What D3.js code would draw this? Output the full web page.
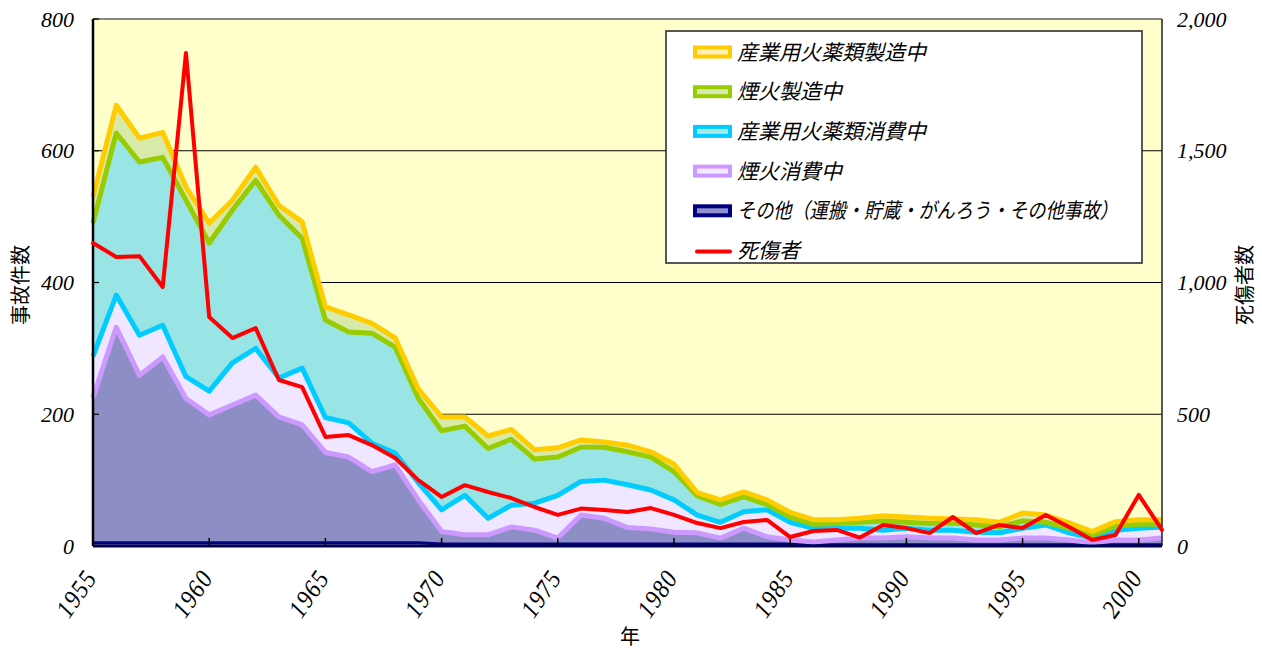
<!DOCTYPE html>
<html><head><meta charset="utf-8">
<script src="https://cdn.jsdelivr.net/npm/d3@7"></script>
<style>
body{margin:0;background:#fff;}
.jp{font-family:"Noto Sans CJK JP","Noto Sans",sans-serif;}
.num{font-family:"Liberation Serif","DejaVu Serif",serif;font-style:italic;}
</style></head><body>
<svg id="c" width="1262" height="652"></svg>
<script>
// ---- data ----
const years = [1955,1956,1957,1958,1959,1960,1961,1962,1963,1964,1965,1966,1967,1968,1969,1970,1971,1972,1973,1974,1975,1976,1977,1978,1979,1980,1981,1982,1983,1984,1985,1986,1987,1988,1989,1990,1991,1992,1993,1994,1995,1996,1997,1998,1999,2000,2001];
const other =          [5,5,5,5,5,5,5,5,5,5,5,5,5,5,5,3,3,3,3,3,3,3,3,3,3,3,3,3,3,3,3,2,2,2,2,2,2,2,2,2,2,2,2,2,2,2,2];
const fireworksUse =   [220,327,254,282,219,194,209,224,191,179,137,130,108,118,65,19,14,14,26,21,9,44,39,25,23,18,17,9,24,11,6,4,7,10,10,12,10,10,7,7,10,10,7,3,7,7,10];
const industrialUse =  [63,49,61,48,33,36,64,71,59,86,53,52,43,18,26,33,60,25,33,41,65,51,58,65,59,49,27,24,25,41,27,21,18,15,12,13,12,12,12,11,15,20,11,7,15,18,17];
const fireworksMfg =   [202,246,263,255,268,225,232,255,247,197,148,138,167,161,128,120,105,106,100,67,58,52,50,50,50,43,29,27,23,8,8,6,7,9,14,9,10,11,11,9,11,4,7,4,6,6,4];
const industrialMfg =  [40,42,36,38,20,30,15,20,15,25,20,26,15,14,14,21,14,19,15,14,14,11,8,10,8,11,5,7,7,7,7,7,6,6,8,8,8,6,8,7,12,11,8,6,7,7,7];
const casualties =     [1150,1097,1100,983,1871,869,789,827,630,603,414,421,383,334,250,186,231,205,182,148,118,142,137,129,144,118,87,68,91,99,34,57,61,32,80,68,49,110,49,80,68,118,72,23,42,194,61];
const seriesKeys = ["other","fireworksUse","industrialUse","fireworksMfg","industrialMfg"];
const legendNames = ["産業用火薬類製造中","煙火製造中","産業用火薬類消費中","煙火消費中","その他（運搬・貯蔵・がんろう・その他事故）"];
const casualtyName = "死傷者";
const leftTicks = [0,200,400,600,800];
const rightTicks = [0,500,1000,1500,2000];
const xTicks = [1955,1960,1965,1970,1975,1980,1985,1990,1995,2000];

// ---- styles ----
const lineColors = ["#000080","#CC99FF","#00CCFF","#99CC00","#FFCC00"];
const bandFills  = ["#8E8EC6","#8E8EC6","#F0E6FF","#99E4E4","#D8EAAA"];
const swatchInner = {"other":"#9090D0","fireworksUse":"#F2EAFF","industrialUse":"#A4E8E8","fireworksMfg":"#D8EAB4","industrialMfg":"#FFF2B8"};

const L=93,R=1162,T=19,B=546;
const svg = d3.select("#c");
const x = d3.scaleLinear().domain([1955,2001]).range([L,R]);
const y = d3.scaleLinear().domain([0,800]).range([B,T]);
const y2 = d3.scaleLinear().domain([0,2000]).range([B,T]);

const rows = years.map((yr,i)=>({year:yr, other:other[i], fireworksUse:fireworksUse[i], industrialUse:industrialUse[i], fireworksMfg:fireworksMfg[i], industrialMfg:industrialMfg[i]}));
const stacked = d3.stack().keys(seriesKeys)(rows);

// plot background
svg.append("rect").attr("x",L).attr("y",T).attr("width",R-L).attr("height",B-T).attr("fill","#FFFFCC");
// gridlines
svg.append("g").selectAll("line").data([200,400,600]).join("line")
  .attr("x1",L).attr("x2",R).attr("y1",d=>y(d)).attr("y2",d=>y(d)).attr("stroke","#000").attr("stroke-width",1.2);

// bands
const area = d3.area().x(d=>x(d.data.year)).y0(d=>y(d[0])).y1(d=>y(d[1]));
svg.append("g").selectAll("path").data(stacked).join("path")
  .attr("d",area).attr("fill",(d,i)=>bandFills[i]);

// series lines (top of each layer)
const topLine = d3.line().x(d=>x(d.data.year)).y(d=>y(d[1]));
svg.append("g").selectAll("path").data(stacked).join("path")
  .attr("d",topLine).attr("fill","none").attr("stroke",(d,i)=>lineColors[i])
  .attr("stroke-width",(d,i)=>i===0?3:5).attr("stroke-linejoin","round");

// borders
svg.append("line").attr("x1",L).attr("x2",R).attr("y1",T).attr("y2",T).attr("stroke","#888").attr("stroke-width",2);
svg.append("line").attr("x1",R).attr("x2",R).attr("y1",T).attr("y2",B).attr("stroke","#222").attr("stroke-width",1.5);
svg.append("line").attr("x1",L).attr("x2",L).attr("y1",T).attr("y2",B).attr("stroke","#000").attr("stroke-width",2.5);
svg.append("line").attr("x1",L).attr("x2",R).attr("y1",B).attr("y2",B).attr("stroke","#000050").attr("stroke-width",3);

// ticks
svg.append("g").selectAll("line").data(leftTicks).join("line")
  .attr("x1",L).attr("x2",L+6).attr("y1",d=>y(d)).attr("y2",d=>y(d)).attr("stroke","#000").attr("stroke-width",1.2);
svg.append("g").selectAll("line").data(xTicks).join("line")
  .attr("x1",d=>x(d)).attr("x2",d=>x(d)).attr("y1",B).attr("y2",B-8).attr("stroke","#000").attr("stroke-width",1.5);

// casualties line
const redLine = d3.line().x((d,i)=>x(years[i])).y(d=>y2(d));
svg.append("path").datum(casualties).attr("d",redLine).attr("fill","none")
  .attr("stroke","#FF0000").attr("stroke-width",4).attr("stroke-linejoin","round").attr("stroke-linecap","round");

// axis labels
svg.append("g").selectAll("text").data(leftTicks).join("text").attr("class","num")
  .attr("x",74).attr("y",d=>y(d)).attr("dy","0.35em").attr("text-anchor","end")
  .attr("font-size",22).text(d=>d3.format(",")(d));
svg.append("g").selectAll("text").data(rightTicks).join("text").attr("class","num")
  .attr("x",1177).attr("y",d=>y2(d)).attr("dy","0.35em").attr("text-anchor","start")
  .attr("font-size",22).text(d=>d3.format(",")(d));
svg.append("g").selectAll("text").data(xTicks).join("text").attr("class","num")
  .attr("transform",d=>`translate(${x(d)+5},578) rotate(-55) scale(1.15,1.3)`)
  .attr("text-anchor","end").attr("font-size",20).attr("letter-spacing","1px")
  .text(d=>d);

svg.append("text").attr("class","jp").attr("transform","translate(28,285) rotate(-90)")
  .attr("text-anchor","middle").attr("font-size",20).text("事故件数");
svg.append("text").attr("class","jp").attr("transform","translate(1252,285) rotate(-90)")
  .attr("text-anchor","middle").attr("font-size",20).text("死傷者数");
svg.append("text").attr("class","jp").attr("x",630).attr("y",644).attr("text-anchor","middle")
  .attr("font-size",20).text("年");

// legend
const lg = svg.append("g");
lg.append("rect").attr("x",666).attr("y",31).attr("width",476).attr("height",232)
  .attr("fill","#fff").attr("stroke","#222").attr("stroke-width",1.5);
const legendKeys = seriesKeys.slice().reverse();
const legendColors = lineColors.slice().reverse();
const ly = d3.scaleLinear().domain([0,5]).range([52,250.5]);
legendKeys.forEach((k,i)=>{
  lg.append("rect").attr("x",695).attr("y",ly(i)-4.5).attr("width",35).attr("height",9)
    .attr("fill",swatchInner[k]).attr("stroke",legendColors[i]).attr("stroke-width",4);
  const t = lg.append("text").attr("class","jp").attr("x",737).attr("y",ly(i)).attr("dy","0.36em")
    .attr("font-size",21).attr("font-style","italic").text(legendNames[i]);
  if(i===4) t.attr("textLength",381).attr("lengthAdjust","spacingAndGlyphs");
});
lg.append("line").attr("x1",697).attr("x2",730).attr("y1",ly(5)+1).attr("y2",ly(5)+1)
  .attr("stroke","#FF0000").attr("stroke-width",4).attr("stroke-linecap","round");
lg.append("text").attr("class","jp").attr("x",737).attr("y",ly(5)).attr("dy","0.36em")
  .attr("font-size",21).attr("font-style","italic").text(casualtyName);
</script>
</body></html>
